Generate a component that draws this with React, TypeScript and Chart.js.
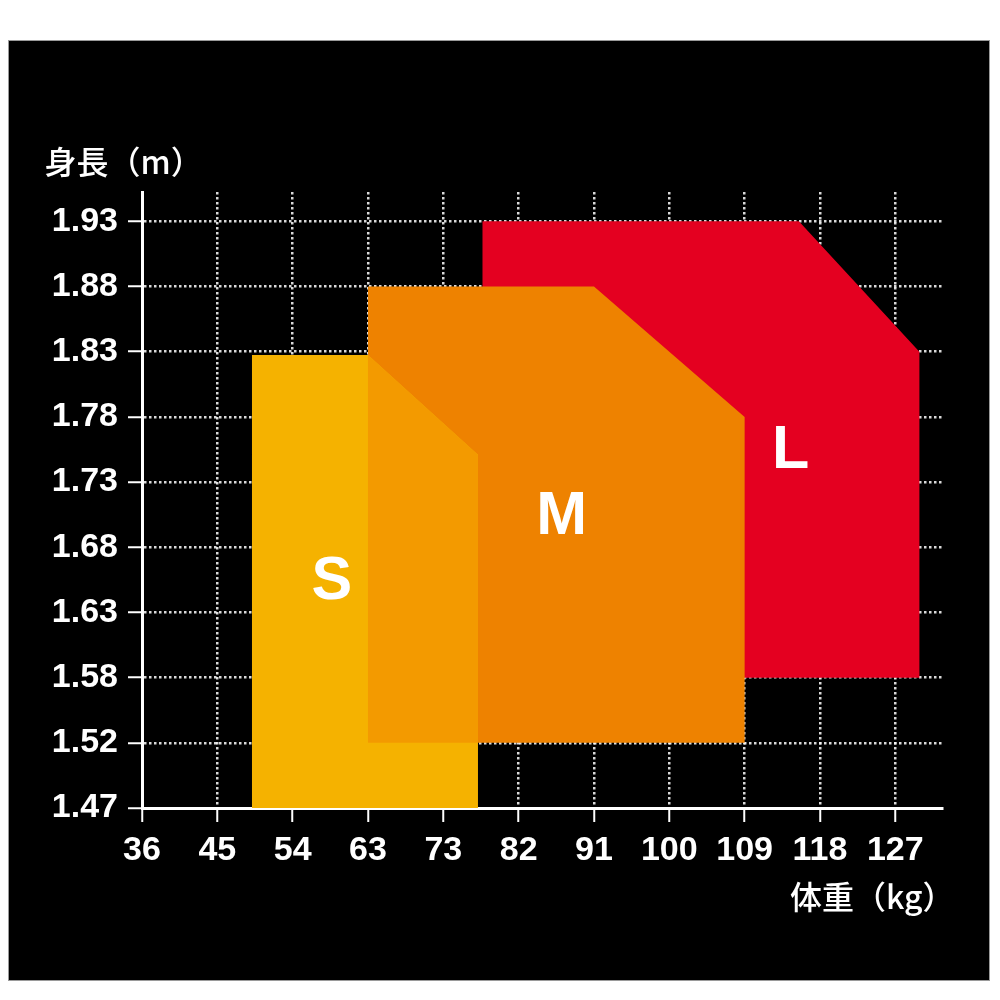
import React, { useEffect, useRef } from "react";
import { Chart, registerables } from "chart.js";

Chart.register(...registerables);

// Tick labels (evenly spaced on the picture)
const weightLabels = ["36", "45", "54", "63", "73", "82", "91", "100", "109", "118", "127"];
const heightLabels = ["1.47", "1.52", "1.58", "1.63", "1.68", "1.73", "1.78", "1.83", "1.88", "1.93"];

const xTitle = "体重（kg）";
const yTitle = "身長（m）";

// Size regions, in tick-index units (x: weight index, y: height index)
const sizeL_x = [4.52, 4.52, 8.72, 10.32, 10.32, 4.52];
const sizeL_y = [2, 9, 9, 7, 2, 2];
const sizeM_x = [3, 3, 6, 8, 8, 3];
const sizeM_y = [1, 8, 8, 6, 1, 1];
const sizeS_x = [1.46, 1.46, 3, 4.46, 4.46, 1.46];
const sizeS_y = [0, 6.95, 6.95, 5.42, 0, 0];
const overlapSM_x = [3, 3, 4.46, 4.46, 3];
const overlapSM_y = [1, 6.95, 5.42, 1, 1];

const sizeNames = ["S", "M", "L"];
const sizeNameX = [2.52, 5.57, 8.61];
const sizeNameY = [3.46, 4.46, 5.48];

const X_MAX = 10.62;
const Y_MAX = 9.45;

const toPoints = (xs: number[], ys: number[]) => xs.map((x, i) => ({ x, y: ys[i] }));

const textPlugin = {
  id: "sizeText",
  afterDraw(chart: any) {
    const { ctx, chartArea, scales } = chart;
    ctx.save();
    ctx.fillStyle = "#ffffff";
    ctx.textBaseline = "middle";
    ctx.textAlign = "left";
    ctx.font = '500 32px "Noto Sans CJK JP"';
    ctx.fillText(yTitle, chartArea.left - 97.5, chartArea.top - 30);
    ctx.fillText(xTitle, chartArea.left + 648, chartArea.bottom + 88.5);
    ctx.font = 'bold 61px "Liberation Sans"';
    ctx.textAlign = "center";
    sizeNames.forEach((n, i) => {
      ctx.fillText(n, scales.x.getPixelForValue(sizeNameX[i]), scales.y.getPixelForValue(sizeNameY[i]));
    });
    ctx.restore();
  },
};

export default function App() {
  const ref = useRef<HTMLCanvasElement | null>(null);

  useEffect(() => {
    if (!ref.current) return;
    const mk = (label: string, xs: number[], ys: number[], color: string) => ({
      label,
      data: toPoints(xs, ys),
      backgroundColor: color,
      borderColor: "transparent",
      borderWidth: 0,
      pointRadius: 0,
      pointHoverRadius: 0,
      tension: 0,
      fill: "shape",
    });
    const gridCommon = {
      color: "rgba(255,255,255,0.85)",
      lineWidth: 2.5,
      tickColor: "#ffffff",
      tickWidth: 2,
      tickLength: 14,
      drawTicks: true,
    };
    const tickFont = { family: '"Liberation Sans"', size: 34, weight: "bold" as const };
    const chart = new Chart(ref.current, {
      type: "line",
      data: {
        datasets: [
          mk("S∩M", overlapSM_x, overlapSM_y, "#f39a00"),
          mk("S", sizeS_x, sizeS_y, "#f5b200"),
          mk("M", sizeM_x, sizeM_y, "#ee8200"),
          mk("L", sizeL_x, sizeL_y, "#e40020"),
        ] as any,
      },
      options: {
        animation: false,
        responsive: true,
        maintainAspectRatio: false,
        layout: { padding: { top: 152, right: 48, left: 0, bottom: 0 } },
        plugins: { legend: { display: false }, tooltip: { enabled: false } },
        events: [],
        scales: {
          x: {
            type: "linear",
            min: 0,
            max: X_MAX,
            z: 1,
            afterFit: (s: any) => {
              s.height = 173;
            },
            grid: gridCommon,
            border: { display: true, color: "#ffffff", width: 3, dash: [2.5, 2.5] },
            ticks: {
              stepSize: 1,
              includeBounds: false,
              color: "#ffffff",
              font: tickFont,
              padding: 8,
              maxRotation: 0,
              autoSkip: false,
              callback: (v: any) => weightLabels[Math.round(Number(v))] ?? "",
            },
          },
          y: {
            type: "linear",
            min: 0,
            max: Y_MAX,
            z: 1,
            afterFit: (s: any) => {
              s.width = 134;
            },
            grid: gridCommon,
            border: { display: true, color: "#ffffff", width: 3, dash: [2.5, 2.5] },
            ticks: {
              stepSize: 1,
              includeBounds: false,
              color: "#ffffff",
              font: tickFont,
              padding: 10,
              autoSkip: false,
              callback: (v: any) => heightLabels[Math.round(Number(v))] ?? "",
            },
          },
        },
      } as any,
      plugins: [textPlugin],
    });
    return () => chart.destroy();
  }, []);

  return (
    <div
      style={{
        position: "absolute",
        left: 8,
        top: 40,
        width: 982,
        height: 941,
        background: "#000",
        boxShadow: "inset 0 0 0 1px #9a9a9a",
      }}
    >
      <canvas ref={ref} />
    </div>
  );
}
